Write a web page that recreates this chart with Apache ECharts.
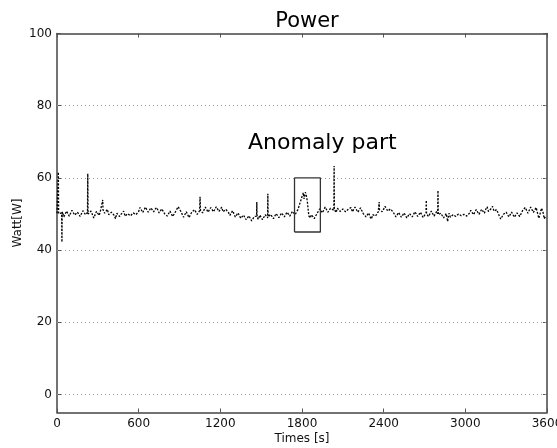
<!DOCTYPE html>
<html>
<head>
<meta charset="utf-8">
<script src="https://cdn.jsdelivr.net/npm/echarts@6/dist/echarts.min.js"></script>
<style>html,body{margin:0;padding:0;background:#fff;}#c{width:557px;height:448px;}</style>
</head>
<body>
<div id="c"></div>
<script>
const times = [0,8,10,12,20,34,36,38,40,50,60,70,80,90,100,110,120,130,140,150,160,170,180,190,200,210,220,224,226,228,240,250,260,270,280,290,300,310,320,334,336,338,340,350,360,370,380,390,400,410,420,430,440,450,460,470,480,490,500,510,520,530,540,550,560,570,580,590,600,610,620,630,640,650,660,670,680,690,700,710,720,730,740,750,760,770,780,790,800,810,820,830,840,850,860,870,880,890,900,910,920,930,940,950,960,970,980,990,1000,1010,1020,1030,1040,1048,1051,1054,1060,1070,1080,1090,1100,1110,1120,1130,1140,1150,1160,1170,1180,1190,1200,1210,1220,1230,1240,1250,1260,1270,1280,1290,1300,1310,1320,1330,1340,1350,1360,1370,1380,1390,1400,1410,1420,1430,1440,1450,1460,1466,1468,1470,1480,1490,1500,1510,1520,1530,1540,1547,1549,1551,1560,1570,1580,1590,1600,1610,1620,1630,1640,1650,1660,1670,1680,1690,1700,1710,1720,1730,1740,1750,1760,1770,1780,1790,1800,1805,1810,1815,1820,1825,1830,1835,1840,1850,1860,1870,1880,1890,1900,1910,1920,1930,1940,1950,1960,1970,1980,1990,2000,2010,2020,2034,2036,2038,2040,2050,2060,2070,2080,2090,2100,2110,2120,2130,2140,2150,2160,2170,2180,2190,2200,2210,2220,2230,2240,2250,2260,2270,2280,2290,2300,2310,2320,2330,2340,2350,2360,2365,2367,2369,2380,2390,2400,2410,2420,2430,2440,2450,2460,2470,2480,2490,2500,2510,2520,2530,2540,2550,2560,2570,2580,2590,2600,2610,2620,2630,2640,2650,2660,2670,2680,2690,2700,2711,2713,2715,2720,2730,2740,2750,2760,2770,2780,2790,2797,2799,2801,2810,2820,2830,2840,2850,2860,2870,2877,2880,2890,2900,2910,2920,2930,2940,2950,2960,2970,2980,2990,3000,3010,3020,3030,3040,3050,3060,3070,3080,3090,3100,3110,3120,3130,3140,3150,3160,3170,3180,3190,3200,3210,3220,3230,3240,3250,3260,3270,3280,3290,3300,3310,3320,3330,3340,3350,3360,3370,3380,3390,3400,3410,3420,3430,3440,3450,3460,3470,3480,3490,3500,3510,3520,3530,3540,3550,3560,3570,3580,3590,3600];
const watts = [50.2,50.4,61.6,50.1,49.8,50.3,42.2,49.9,50.6,49.2,49.9,50.8,50.3,49.4,49.9,51.0,50.8,49.7,49.6,50.5,50.4,49.3,49.7,50.9,50.9,49.8,50.1,50.4,61.2,50.0,49.5,50.8,50.6,48.9,49.2,50.7,50.3,49.6,51.0,50.6,53.9,51.2,51.6,50.2,50.4,51.3,49.8,49.4,50.5,50.9,49.6,48.7,50.2,50.6,49.3,49.9,50.0,50.8,49.4,49.0,50.1,50.5,49.5,49.2,50.3,50.7,49.8,50.1,50.7,51.8,51.3,50.4,50.6,51.9,51.4,50.5,50.8,51.7,51.5,50.6,50.9,51.8,51.2,50.3,50.5,51.4,51.0,50.1,50.2,49.4,49.6,50.8,50.4,49.3,49.8,50.6,50.9,52.0,51.6,50.7,50.2,49.1,49.5,50.6,50.1,49.0,49.4,50.5,50.3,51.2,50.8,49.9,50.2,50.9,54.8,51.0,51.4,50.3,50.6,51.9,51.7,50.5,50.9,51.8,51.5,50.6,51.0,52.0,51.8,50.7,51.1,51.9,50.6,50.1,51.3,50.8,50.4,49.6,49.8,50.9,50.5,49.2,49.4,50.3,49.9,48.8,48.6,49.7,49.2,48.4,48.5,49.5,49.0,48.1,48.3,49.3,48.9,49.4,53.3,49.1,48.5,49.7,49.3,48.4,48.7,49.8,49.4,48.9,55.6,49.2,48.8,49.9,49.6,48.7,49.0,50.1,49.8,49.0,49.3,50.3,50.1,49.2,49.5,50.5,50.2,49.4,49.7,50.7,50.4,49.8,50.6,51.2,52.4,53.6,54.8,55.3,55.9,54.2,54.6,56.0,55.4,54.5,53.2,49.5,48.9,49.8,49.6,48.7,49.2,50.1,50.3,51.4,51.2,50.3,50.6,51.9,51.5,50.5,50.8,51.6,51.7,51.0,63.3,51.3,50.9,50.4,51.6,52.0,50.7,50.3,51.4,51.8,50.6,50.2,51.3,50.9,51.8,50.6,50.9,51.9,51.5,50.5,50.8,51.7,51.2,50.1,50.4,49.2,49.7,50.3,49.2,48.6,49.8,50.2,49.4,49.0,50.6,50.9,53.3,51.2,51.6,50.6,51.0,52.1,51.8,50.8,50.7,51.4,51.2,50.5,50.1,49.2,49.6,50.4,50.2,49.1,49.5,50.3,49.9,48.9,49.3,50.1,50.0,49.2,49.6,50.6,50.3,49.3,49.7,50.5,50.1,49.0,49.6,50.2,53.8,50.0,50.4,49.3,49.8,50.8,50.5,49.4,49.9,50.7,50.1,56.5,49.8,49.4,50.2,50.0,48.9,49.3,50.1,47.9,49.6,50.2,49.1,48.8,49.8,50.0,49.3,48.9,50.0,50.3,49.5,49.0,49.9,50.4,49.4,49.1,50.2,51.0,50.6,49.8,50.0,51.2,50.7,49.9,50.2,51.3,50.9,50.2,51.3,52.0,50.7,50.5,51.5,52.1,50.8,50.6,51.2,50.3,49.4,48.6,49.0,49.9,49.7,50.5,50.3,49.2,49.6,50.5,50.0,49.1,49.4,50.3,50.2,49.3,49.8,50.9,50.8,51.8,51.4,50.2,50.6,51.9,51.6,50.4,50.2,51.8,51.3,48.8,49.0,51.6,50.6,48.7,49.4];
const xTicks = [0,600,1200,1800,2400,3000,3600];
const yTicks = [0,20,40,60,80,100];
const boxT = [1745,1935];
const boxW = [45,60];

const powerData = times.map((t,i)=>[t,watts[i]]);
const boxData = [[boxT[0],boxW[0]],[boxT[1],boxW[0]],[boxT[1],boxW[1]],[boxT[0],boxW[1]],[boxT[0],boxW[0]]];
const FONT = 'DejaVu Sans';
const axisLine = {show:true, onZero:false, lineStyle:{color:'#444', width:1.5}};
const plain = v => String(v);

const chart = echarts.init(document.getElementById('c'), null, {renderer:'canvas'});
chart.setOption({
  animation:false,
  backgroundColor:'#fff',
  title:{text:'Power', left:302, textAlign:'center', top:6, textStyle:{fontFamily:FONT, fontSize:21, fontWeight:'normal', color:'#000'}},
  grid:{left:57, right:10, top:33.5, bottom:35.5, containLabel:false, outerBoundsMode:'none'},
  xAxis:[
    {type:'value', min:0, max:3600, interval:600, position:'bottom',
     name:'Times [s]', nameLocation:'middle', nameGap:20, nameMoveOverlap:false,
     nameTextStyle:{fontFamily:FONT, fontSize:12, color:'#111'},
     axisLine:axisLine, axisTick:{show:true, inside:true, length:4, lineStyle:{color:'#555'}},
     axisLabel:{fontFamily:FONT, fontSize:12, color:'#111', margin:5, showMaxLabel:true, hideOverlap:false, formatter:plain},
     splitLine:{show:false}},
    {type:'value', min:0, max:3600, interval:600, position:'top',
     axisLine:axisLine, axisTick:{show:true, inside:true, length:4, lineStyle:{color:'#555'}},
     axisLabel:{show:false}, splitLine:{show:false}}
  ],
  yAxis:[
    {type:'value', min:-5, max:100, position:'left',
     name:'Watt[W]', nameLocation:'middle', nameGap:33, nameRotate:90, nameMoveOverlap:false,
     nameTextStyle:{fontFamily:FONT, fontSize:12, color:'#111'},
     axisLine:axisLine,
     axisTick:{show:true, inside:true, length:4, customValues:yTicks, lineStyle:{color:'#555'}},
     axisLabel:{fontFamily:FONT, fontSize:12, color:'#111', margin:5, customValues:yTicks, formatter:plain},
     splitLine:{show:false}},
    {type:'value', min:-5, max:100, position:'right',
     axisLine:axisLine,
     axisTick:{show:true, inside:true, length:4, customValues:yTicks, lineStyle:{color:'#555'}},
     axisLabel:{show:false}, splitLine:{show:false}}
  ],
  series:[
    {type:'line', xAxisIndex:0, yAxisIndex:0, data:powerData, showSymbol:false, symbol:'none',
     lineStyle:{color:'#000', width:1.3, type:[2,1.5]}, silent:true, z:3,
     markLine:{silent:true, symbol:'none', label:{show:false},
       lineStyle:{color:'#999', width:1, type:[1,3]},
       data:yTicks.slice(0,5).map(v=>({yAxis:v}))}},
    {type:'line', xAxisIndex:0, yAxisIndex:0, data:boxData, showSymbol:false, symbol:'none',
     lineStyle:{color:'#333', width:1.3}, silent:true, z:4}
  ],
  graphic:[
    {type:'text', left:248, top:132, style:{text:'Anomaly part', fontFamily:FONT, fontSize:22, fill:'#000'}}
  ]
});
</script>
</body>
</html>
